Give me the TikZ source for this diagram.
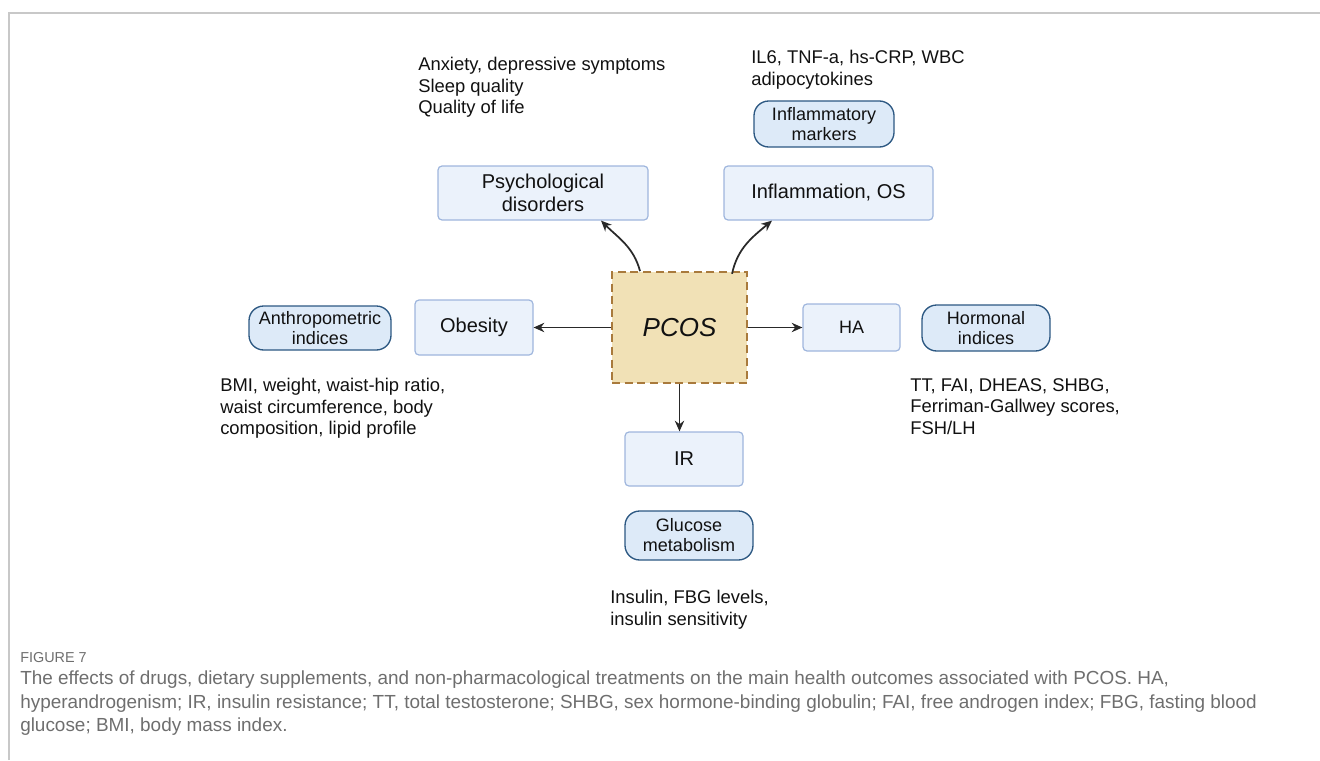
\documentclass[tikz,border=0pt]{standalone}
\usepackage{fontspec}
\setmainfont{Liberation Sans}
\usetikzlibrary{arrows.meta,positioning}
\definecolor{ink}{HTML}{111111}
\definecolor{capt}{HTML}{6E6E6E}
\definecolor{frm}{HTML}{C8C8C8}
\definecolor{outfill}{HTML}{EBF2FB}
\definecolor{outline}{HTML}{9FB6DD}
\definecolor{pillfill}{HTML}{DDEAF8}
\definecolor{pillline}{HTML}{2C5882}
\definecolor{hubfill}{HTML}{F1E1B6}
\definecolor{hubline}{HTML}{A97A3C}
\tikzset{
  outc/.style={draw=outline, fill=outfill, rounded corners=3pt, line width=0.9pt,
               inner sep=0pt, font=\fontsize{15}{17.5}\selectfont, align=center, text=ink},
  pill/.style={draw=pillline, fill=pillfill, rounded corners=11pt, line width=1pt,
               inner sep=0pt, font=\fontsize{13.5}{15}\selectfont, align=center, text=ink},
  hub/.style={draw=hubline, fill=hubfill, dash pattern=on 6pt off 3.5pt, line width=1.3pt,
              inner sep=0pt, font=\fontsize{19.5}{24}\selectfont\itshape, text=ink},
  note/.style={anchor=north west, inner sep=0pt, align=left,
               font=\fontsize{13.8}{16.2}\selectfont, text=ink},
  link/.style={-{Stealth[length=8pt,width=7pt]}, line width=1.3pt, draw=ink!90},
}

\begin{document}
\begin{tikzpicture}[x=0.75pt, y=-0.75pt]
    \useasboundingbox (0,0) rectangle (1320,760);
    \draw[frm, line width=1pt] (9,760) -- (9,13) -- (1320,13);
    % centre and outcomes
    \node[hub, minimum width=101.25pt, minimum height=83.25pt] (pcos) at (679.5,327.5) {PCOS};
    \node[outc, minimum width=157.5pt, minimum height=40.5pt] (psy) at (543,193) {Psychological\\disorders};
    \node[outc, minimum width=156.75pt, minimum height=40.5pt] (infl) at (828.5,193) {Inflammation, OS};
    \node[outc, minimum width=88.5pt, minimum height=41.25pt] (obes) at (474,327.5) {Obesity};
    \node[outc, minimum width=72.75pt, minimum height=35.25pt] (ha) at (851.5,327.5) {\fontsize{13.5}{16}\selectfont HA};
    \node[outc, minimum width=88.5pt, minimum height=40.5pt] (ir) at (684,459) {IR};
    % measured indices
    \node[pill, minimum width=105pt, minimum height=34.5pt] (inflm) at (824,124) {Inflammatory\\markers};
    \node[pill, minimum width=106.5pt, minimum height=33pt] (anthr) at (320,328) {Anthropometric\\indices};
    \node[pill, minimum width=96pt, minimum height=34.5pt] (horm) at (986,328) {Hormonal\\indices};
    \node[pill, minimum width=96pt, minimum height=36.75pt] (gluc) at (689,535.5) {Glucose\\metabolism};
    % lists
    \node[note] (psyl) at (418,57) {Anxiety, depressive symptoms\\Sleep quality\\Quality of life};
    \node[note] (infll) at (751,50) {IL6, TNF-a, hs-CRP, WBC\\adipocytokines};
    \node[note] (obesl) at (220,378) {BMI, weight, waist-hip ratio,\\waist circumference, body\\composition, lipid profile};
    \node[note] (hal) at (910,378) {TT, FAI, DHEAS, SHBG,\\Ferriman-Gallwey scores,\\FSH/LH};
    \node[note] (irl) at (610,590) {Insulin, FBG levels,\\insulin sensitivity};
    % links
    \draw[link] ([xshift=-29.6pt]pcos.north) to[out=105, in=-45] ([xshift=43.5pt]psy.south);
    \draw[link] ([xshift=39.4pt, yshift=-2pt]pcos.north) to[out=78, in=220] ([xshift=-42.4pt]infl.south);
    \draw[link] (pcos.west) -- (obes.east);
    \draw[link] (pcos.east) -- (ha.west);
    \draw[link] (pcos.south) -- (pcos.south |- ir.north);
    % caption
    \node[anchor=base west, inner sep=0pt, text=capt, font=\fontsize{10.8}{12}\selectfont] (fig) at (20,662) {FIGURE 7};
    \node[anchor=north west, inner sep=0pt, align=left, text=capt, font=\fontsize{14.2}{17.6}\selectfont] (capt) at (20,671)
      {The effects of drugs, dietary supplements, and non-pharmacological treatments on the main health outcomes associated with PCOS. HA,\\
       hyperandrogenism; IR, insulin resistance; TT, total testosterone; SHBG, sex hormone-binding globulin; FAI, free androgen index; FBG, fasting blood\\
       glucose; BMI, body mass index.};
  \end{tikzpicture}
\end{document}
